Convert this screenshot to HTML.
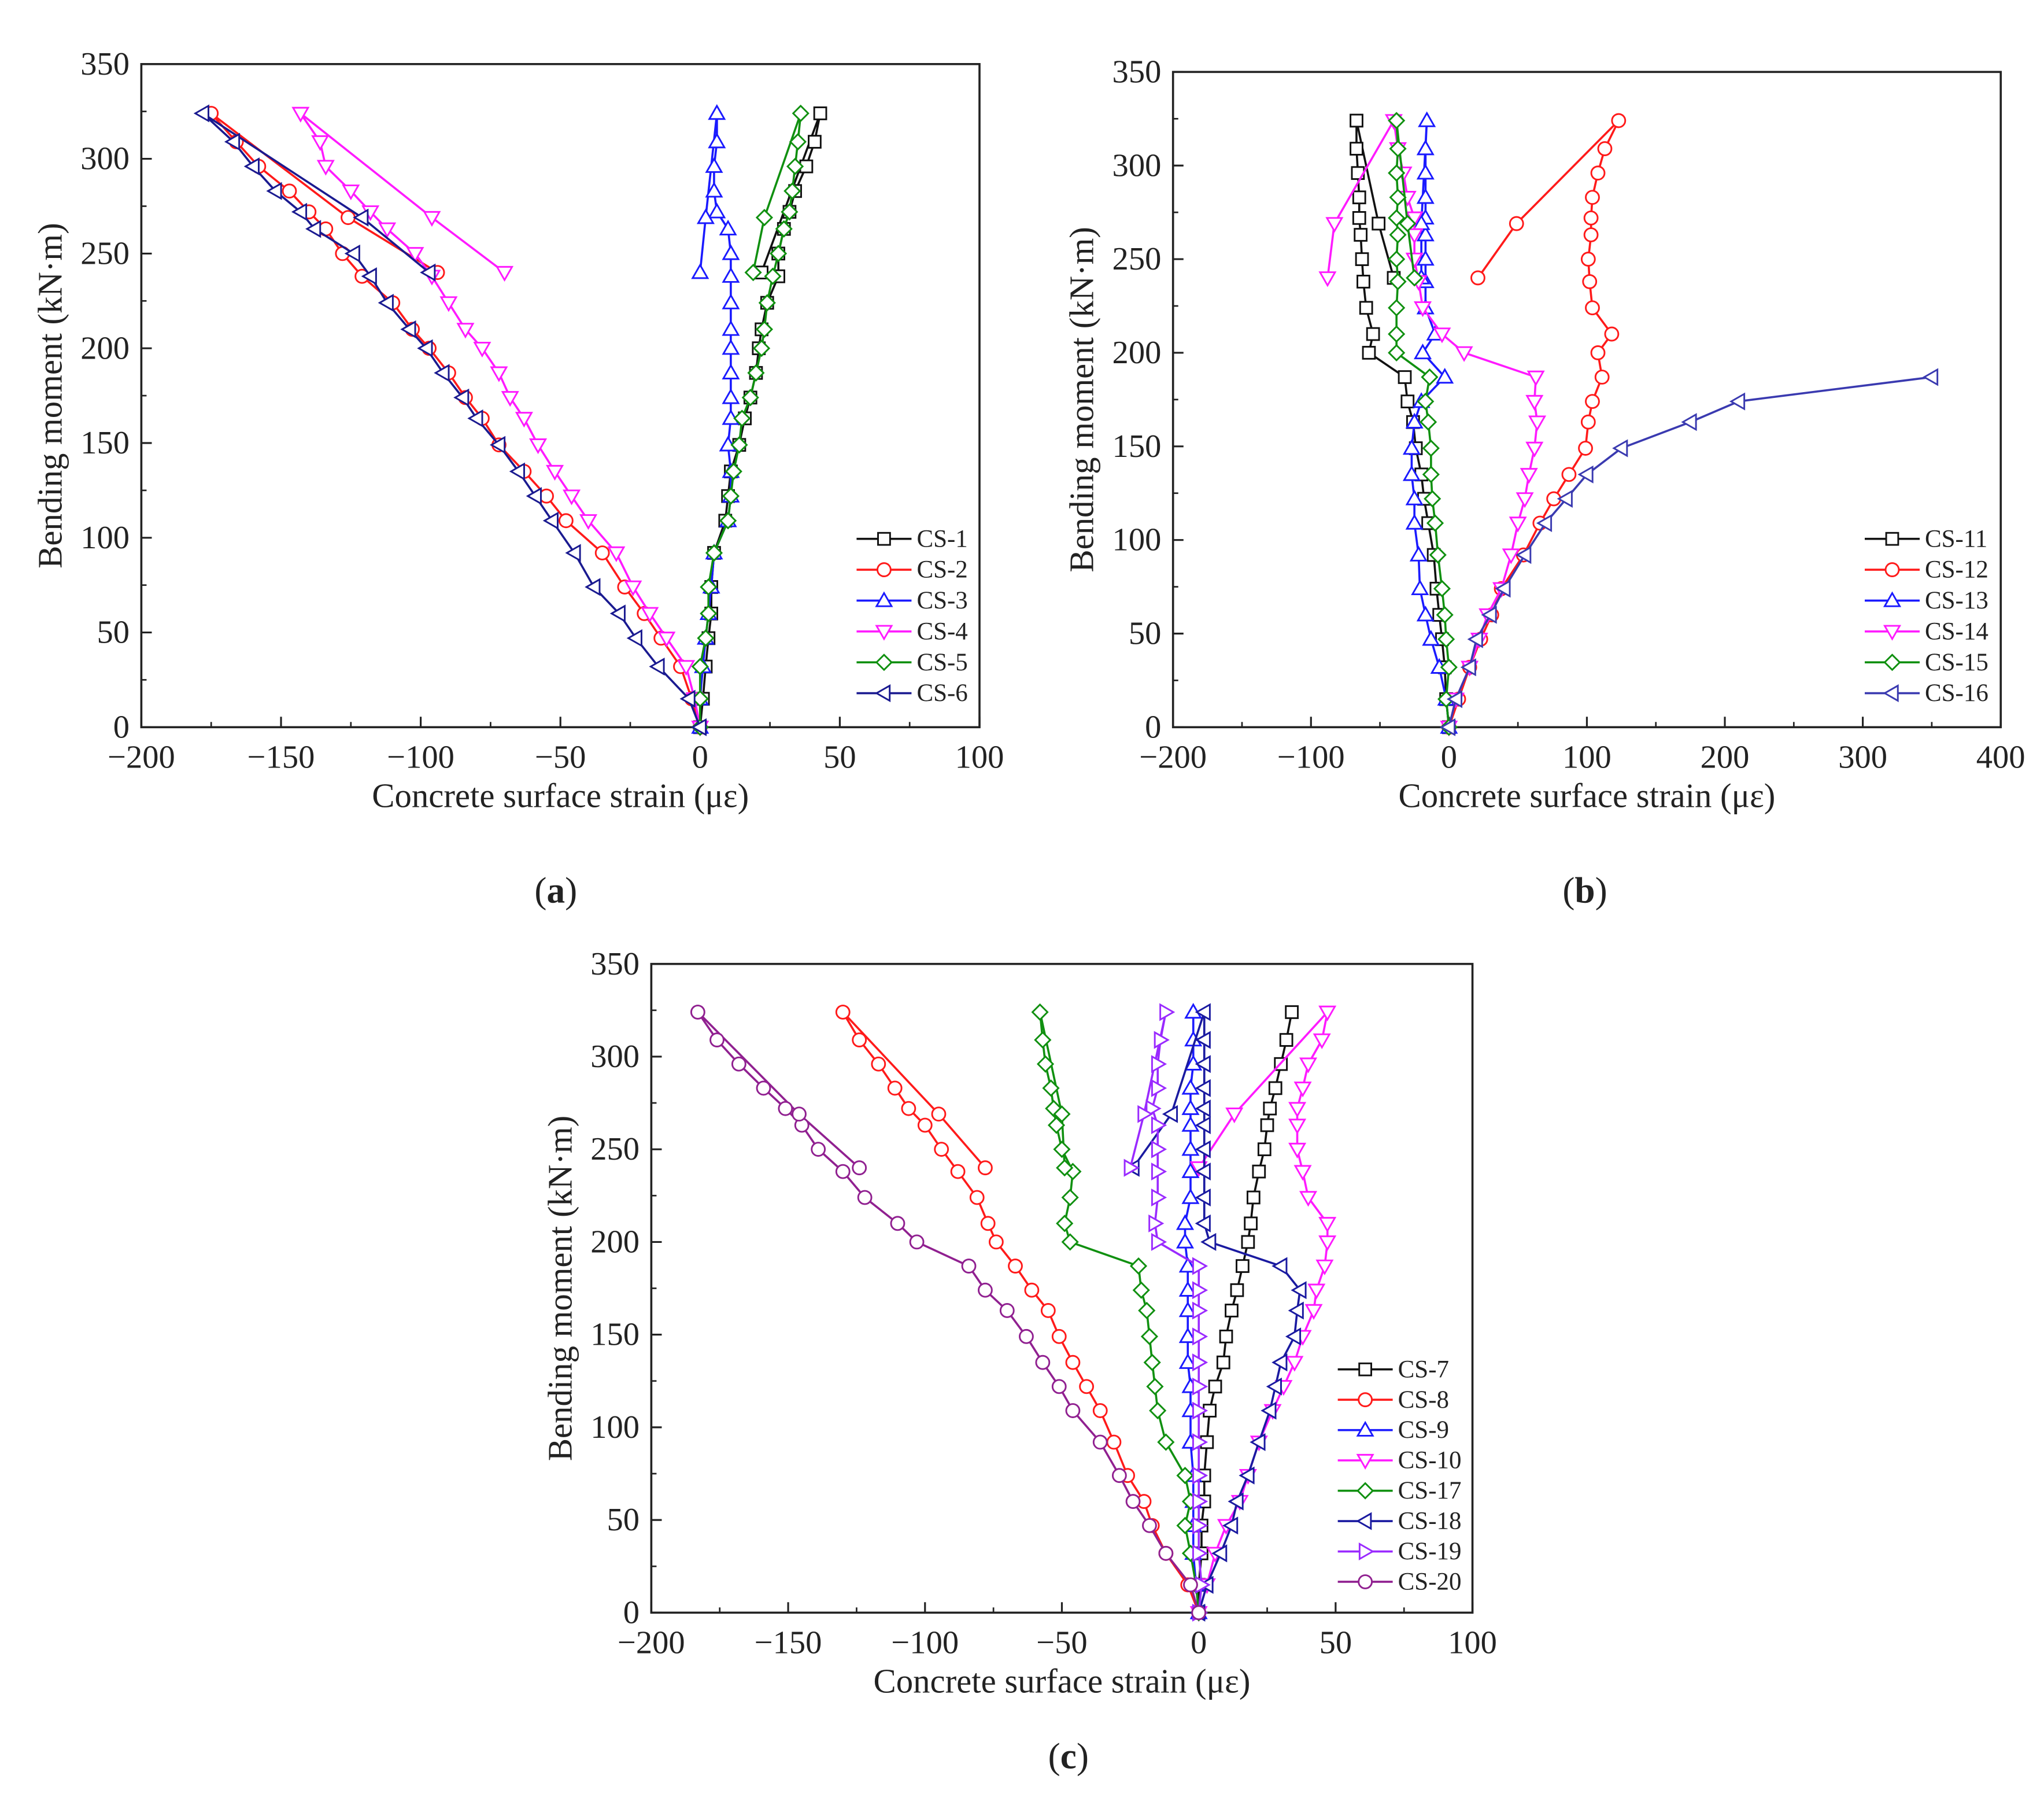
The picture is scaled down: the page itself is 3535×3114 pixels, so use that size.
<!DOCTYPE html>
<html><head><meta charset="utf-8"><style>
html,body{margin:0;padding:0;background:#fff;}
svg{display:block;}
text{font-family:"Liberation Serif","DejaVu Serif",serif;fill:#222;}
</style></head><body>
<svg id="fig" width="3535" height="3114" viewBox="0 0 1563 1377" xmlns="http://www.w3.org/2000/svg">
<g id="pa"></g>
<g id="pb"></g>
<g id="pc"></g>
<text x="425" y="690" font-size="28" text-anchor="middle">(<tspan font-weight="bold">a</tspan>)</text>
<text x="1212" y="690" font-size="28" text-anchor="middle">(<tspan font-weight="bold">b</tspan>)</text>
<text x="817" y="1352" font-size="28" text-anchor="middle">(<tspan font-weight="bold">c</tspan>)</text>
</svg>
<script>
// ---- Panel (a) data ----
const a_names = ["CS-1","CS-2","CS-3","CS-4","CS-5","CS-6"];
const a_cs1_x = [0,1,2,3,4,4,5,9,10,11,14,16,18,20,21,22,24,28,28,30,32,34,38,41,43,22];
const a_cs1_y = [0,15,32,47,60,74,92,109,122,135,149,163,174,187,200,210,224,238,250,263,272,283,296,309,324,240];
const a_cs2_x = [0,-3,-7,-14,-20,-27,-35,-48,-55,-63,-72,-78,-84,-90,-97,-103,-110,-121,-128,-134,-140,-147,-158,-166,-175,-126,-94];
const a_cs2_y = [0,15,32,47,60,74,92,109,122,135,149,163,174,187,200,210,224,238,250,263,272,283,296,309,324,269,240];
const a_cs3_x = [0,0,1,2,3,4,5,10,11,11,10,11,11,11,11,11,11,11,11,10,6,5,5,6,6,2,0];
const a_cs3_y = [0,15,32,47,60,74,92,109,122,135,149,163,174,187,200,210,224,238,250,263,272,283,296,309,324,269,240];
const a_cs4_x = [0,-2,-5,-12,-18,-24,-30,-40,-46,-52,-58,-63,-68,-72,-78,-84,-90,-96,-102,-112,-118,-125,-134,-136,-143,-96,-70];
const a_cs4_y = [0,15,32,47,60,74,92,109,122,135,149,163,174,187,200,210,224,238,250,263,272,283,296,309,324,269,240];
const a_cs5_x = [0,0,0,2,3,3,5,10,11,12,14,15,18,20,22,23,24,26,28,30,32,33,34,35,36,23,19];
const a_cs5_y = [0,15,32,47,60,74,92,109,122,135,149,163,174,187,200,210,224,238,250,263,272,283,296,309,324,269,240];
const a_cs6_x = [0,-4,-15,-23,-29,-38,-45,-53,-59,-65,-72,-80,-85,-92,-98,-104,-112,-118,-124,-138,-143,-152,-160,-167,-178,-121,-97];
const a_cs6_y = [0,15,32,47,60,74,92,109,122,135,149,163,174,187,200,210,224,238,250,263,272,283,296,309,324,269,240];
const a_xticks = [-200,-150,-100,-50,0,50,100];
const a_yticks = [0,50,100,150,200,250,300,350];

// ---- Panel (b) data ----
const b_names = ["CS-11","CS-12","CS-13","CS-14","CS-15","CS-16"];
const b_cs11_x = [0,-2,-3,-5,-7,-9,-11,-15,-18,-20,-24,-26,-30,-32,-58,-55,-60,-62,-63,-64,-65,-65,-66,-67,-67,-51,-40];
const b_cs11_y = [0,15,32,47,60,74,92,109,122,135,149,163,174,187,200,210,224,238,250,263,272,283,296,309,324,269,240];
const b_cs12_x = [0,7,15,23,31,38,54,66,76,87,99,101,104,111,108,118,104,102,101,103,103,104,108,113,123,49,21];
const b_cs12_y = [0,15,32,47,60,74,92,109,122,135,149,163,174,187,200,210,224,238,250,263,272,283,296,309,324,269,240];
const b_cs13_x = [0,-2,-7,-13,-17,-21,-22,-25,-25,-27,-27,-25,-20,-3,-19,-10,-17,-17,-17,-17,-17,-17,-17,-17,-16,-20,-20];
const b_cs13_y = [0,15,32,47,60,74,92,109,122,135,149,163,174,187,200,210,224,238,250,263,272,283,296,309,324,269,240];
const b_cs14_x = [0,5,15,22,28,38,45,50,55,58,62,64,62,63,11,-5,-19,-22,-25,-25,-25,-30,-33,-37,-40,-83,-88];
const b_cs14_y = [0,15,32,47,60,74,92,109,122,135,149,163,174,187,200,210,224,238,250,263,272,283,296,309,324,269,240];
const b_cs15_x = [0,-2,0,-2,-3,-5,-8,-10,-12,-13,-13,-15,-17,-14,-38,-38,-38,-37,-38,-37,-38,-37,-38,-37,-38,-30,-25];
const b_cs15_y = [0,15,32,47,60,74,92,109,122,135,149,163,174,187,200,210,224,238,250,263,272,283,296,309,324,269,240];
const b_cs16_x = [0,5,15,20,30,40,55,70,85,100,125,175,210,350];
const b_cs16_y = [0,15,32,47,60,74,92,109,122,135,149,163,174,187];
const b_xticks = [-200,-100,0,100,200,300,400];
const b_yticks = [0,50,100,150,200,250,300,350];

// ---- Panel (c) data ----
const c_names = ["CS-7","CS-8","CS-9","CS-10","CS-17","CS-18","CS-19","CS-20"];
const c_cs7_x = [0,0,1,1,2,2,3,4,6,9,10,12,14,16,18,19,20,22,24,25,26,28,30,32,34];
const c_cs7_y = [0,15,32,47,60,74,92,109,122,135,149,163,174,187,200,210,224,238,250,263,272,283,296,309,324];
const c_cs8_x = [0,-4,-12,-17,-20,-26,-31,-36,-41,-46,-51,-55,-61,-67,-74,-77,-81,-88,-94,-100,-106,-111,-117,-124,-130,-95,-78];
const c_cs8_y = [0,15,32,47,60,74,92,109,122,135,149,163,174,187,200,210,224,238,250,263,272,283,296,309,324,269,240];
const c_cs9_x = [0,-1,-2,-2,-2,-2,-3,-3,-3,-4,-4,-4,-4,-4,-5,-5,-3,-3,-3,-3,-3,-3,-2,-2,-2];
const c_cs9_y = [0,15,32,47,60,74,92,109,122,135,149,163,174,187,200,210,224,238,250,263,272,283,296,309,324];
const c_cs10_x = [0,3,6,10,15,18,22,27,31,35,38,42,43,46,47,47,40,38,36,36,36,38,40,45,47,13,0];
const c_cs10_y = [0,15,32,47,60,74,92,109,122,135,149,163,174,187,200,210,224,238,250,263,272,283,296,309,324,269,240];
const c_cs17_x = [0,-1,-3,-5,-3,-5,-12,-15,-16,-17,-18,-19,-21,-22,-47,-49,-47,-46,-50,-52,-53,-54,-56,-57,-58,-50,-49];
const c_cs17_y = [0,15,32,47,60,74,92,109,122,135,149,163,174,187,200,210,224,238,250,263,272,283,296,309,324,269,240];
const c_cs18_x = [0,3,8,12,14,18,22,26,28,30,35,36,37,30,4,2,2,2,2,2,2,2,2,2,2,-10,-24];
const c_cs18_y = [0,15,32,47,60,74,92,109,122,135,149,163,174,187,200,210,224,238,250,263,272,283,296,309,324,269,240];
const c_cs19_x = [0,1,0,0,0,0,0,0,0,0,0,0,0,0,-15,-16,-15,-15,-15,-15,-17,-15,-15,-14,-12,-20,-25];
const c_cs19_y = [0,15,32,47,60,74,92,109,122,135,149,163,174,187,200,210,224,238,250,263,272,283,296,309,324,269,240];
const c_cs20_x = [0,-3,-12,-18,-24,-29,-36,-46,-51,-57,-63,-70,-78,-84,-103,-110,-122,-130,-139,-145,-151,-159,-168,-176,-183,-146,-124];
const c_cs20_y = [0,15,32,47,60,74,92,109,122,135,149,163,174,187,200,210,224,238,250,263,272,283,296,309,324,269,240];
const c_xticks = [-200,-150,-100,-50,0,50,100];
const c_yticks = [0,50,100,150,200,250,300,350];

const NS = "http://www.w3.org/2000/svg";
function mk(tag, attrs, parent){
  const e = document.createElementNS(NS, tag);
  for (const k in attrs) e.setAttribute(k, attrs[k]);
  parent.appendChild(e);
  return e;
}
function marker(g, shape, cx, cy, color, r){
  let e;
  if (shape === "square") e = mk("rect", {x:cx-r, y:cy-r, width:2*r, height:2*r}, g);
  else if (shape === "circle") e = mk("circle", {cx:cx, cy:cy, r:r*1.1}, g);
  else {
    let pts;
    const s = r*1.25;
    if (shape === "up") pts = [[cx,cy-s],[cx+s,cy+s*0.75],[cx-s,cy+s*0.75]];
    else if (shape === "down") pts = [[cx,cy+s],[cx+s,cy-s*0.75],[cx-s,cy-s*0.75]];
    else if (shape === "left") pts = [[cx-s,cy],[cx+s*0.75,cy-s],[cx+s*0.75,cy+s]];
    else if (shape === "right") pts = [[cx+s,cy],[cx-s*0.75,cy-s],[cx-s*0.75,cy+s]];
    else pts = [[cx,cy-s],[cx+s,cy],[cx,cy+s],[cx-s,cy]];
    e = mk("polygon", {points: pts.map(p=>p.join(",")).join(" ")}, g);
  }
  e.setAttribute("fill", "#fff");
  e.setAttribute("stroke", color);
  e.setAttribute("stroke-width", "1.3");
  
  
  return e;
}

function panel(gid, box, xmin, xmax, ymin, ymax, xticks, yticks, series, names, legend){
  const g = document.getElementById(gid);
  const sx = v => box.x0 + (v - xmin) / (xmax - xmin) * (box.x1 - box.x0);
  const sy = v => box.y1 - (v - ymin) / (ymax - ymin) * (box.y1 - box.y0);
  const frame = mk("rect", {x:box.x0, y:box.y0, width:box.x1-box.x0, height:box.y1-box.y0, fill:"none", stroke:"#222", "stroke-width":1.6}, g);
  
  
  const xstep = xticks[1]-xticks[0];
  xticks.forEach((t,i)=>{
    const x = sx(t);
    const tk = mk("line", {x1:x, x2:x, y1:box.y1, y2:box.y1-8, stroke:"#222", "stroke-width":1.4}, g);
    
    
    if (i < xticks.length-1) {
      const xm = sx(t + xstep/2);
      const mt = mk("line", {x1:xm, x2:xm, y1:box.y1, y2:box.y1-4, stroke:"#222", "stroke-width":1.2}, g);
      
      
    }
    const lb = mk("text", {x:x, y:box.y1+31, "font-size":25, "text-anchor":"middle"}, g);
    lb.textContent = t < 0 ? "\u2212" + Math.abs(t) : String(t);
    
    
  });
  const ystep = yticks[1]-yticks[0];
  yticks.forEach((t,i)=>{
    const y = sy(t);
    const tk = mk("line", {x1:box.x0, x2:box.x0+8, y1:y, y2:y, stroke:"#222", "stroke-width":1.4}, g);
    
    
    if (i < yticks.length-1) {
      const ym = sy(t + ystep/2);
      const mt = mk("line", {x1:box.x0, x2:box.x0+4, y1:ym, y2:ym, stroke:"#222", "stroke-width":1.2}, g);
      
      
    }
    const lb = mk("text", {x:box.x0-9, y:y+8, "font-size":25, "text-anchor":"end"}, g);
    lb.textContent = String(t);
    
    
  });
  const xt = mk("text", {x:(box.x0+box.x1)/2, y:box.y1+61, "font-size":26, "text-anchor":"middle"}, g);
  xt.textContent = "Concrete surface strain (\u03bc\u03b5)";
  
  
  const ycx = box.x0-70, ycy = (box.y0+box.y1)/2;
  const yt = mk("text", {x:ycx, y:ycy+9, "font-size":26, "text-anchor":"middle", transform:`rotate(-90 ${ycx} ${ycy})`}, g);
  yt.textContent = "Bending moment (kN\u00b7m)";
  
  

  series.forEach((s,si)=>{
    const sg = mk("g", {}, g);
    
    
    const pts = s.x.map((v,i)=>sx(v).toFixed(1)+","+sy(s.y[i]).toFixed(1)).join(" ");
    const pl = mk("polyline", {points:pts, fill:"none", stroke:s.c, "stroke-width":1.6}, sg);
    
    
    s.x.forEach((v,i)=>marker(sg, s.m, sx(v), sy(s.y[i]), s.c, 4.6));
  });
  series.forEach((s,si)=>{
    const ly = legend.y + si*legend.dy;
    const lg = mk("g", {}, g);
    
    
    mk("line", {x1:legend.x, x2:legend.x+42, y1:ly, y2:ly, stroke:s.c, "stroke-width":1.6}, lg);
    marker(lg, s.m, legend.x+21, ly, s.c, 4.6);
    const t = mk("text", {x:legend.x+46, y:ly+6, "font-size":19}, lg);
    t.textContent = names[si];
  });
}

panel("pa", {x0:108,x1:749,y0:49,y1:556}, -200, 100, 0, 350, a_xticks, a_yticks, [
  {x:a_cs1_x,y:a_cs1_y,c:"#111111",m:"square"},
  {x:a_cs2_x,y:a_cs2_y,c:"#ff1a1a",m:"circle"},
  {x:a_cs3_x,y:a_cs3_y,c:"#1a1aff",m:"up"},
  {x:a_cs4_x,y:a_cs4_y,c:"#ff1aff",m:"down"},
  {x:a_cs5_x,y:a_cs5_y,c:"#109010",m:"diamond"},
  {x:a_cs6_x,y:a_cs6_y,c:"#1a1a90",m:"left"}
], a_names, {x:655, y:412, dy:23.6});

panel("pb", {x0:897,x1:1530,y0:55,y1:556}, -200, 400, 0, 350, b_xticks, b_yticks, [
  {x:b_cs11_x,y:b_cs11_y,c:"#111111",m:"square"},
  {x:b_cs12_x,y:b_cs12_y,c:"#ff1a1a",m:"circle"},
  {x:b_cs13_x,y:b_cs13_y,c:"#1a1aff",m:"up"},
  {x:b_cs14_x,y:b_cs14_y,c:"#ff1aff",m:"down"},
  {x:b_cs15_x,y:b_cs15_y,c:"#109010",m:"diamond"},
  {x:b_cs16_x,y:b_cs16_y,c:"#3a3ab0",m:"left"}
], b_names, {x:1426, y:412, dy:23.6});

panel("pc", {x0:498,x1:1126,y0:737,y1:1233}, -200, 100, 0, 350, c_xticks, c_yticks, [
  {x:c_cs7_x,y:c_cs7_y,c:"#111111",m:"square"},
  {x:c_cs8_x,y:c_cs8_y,c:"#ff1a1a",m:"circle"},
  {x:c_cs9_x,y:c_cs9_y,c:"#1a1aff",m:"up"},
  {x:c_cs10_x,y:c_cs10_y,c:"#ff1aff",m:"down"},
  {x:c_cs17_x,y:c_cs17_y,c:"#109010",m:"diamond"},
  {x:c_cs18_x,y:c_cs18_y,c:"#1a1aa0",m:"left"},
  {x:c_cs19_x,y:c_cs19_y,c:"#9a2aff",m:"right"},
  {x:c_cs20_x,y:c_cs20_y,c:"#902090",m:"circle"}
], c_names, {x:1023, y:1047, dy:23.2});
</script>
</body></html>
